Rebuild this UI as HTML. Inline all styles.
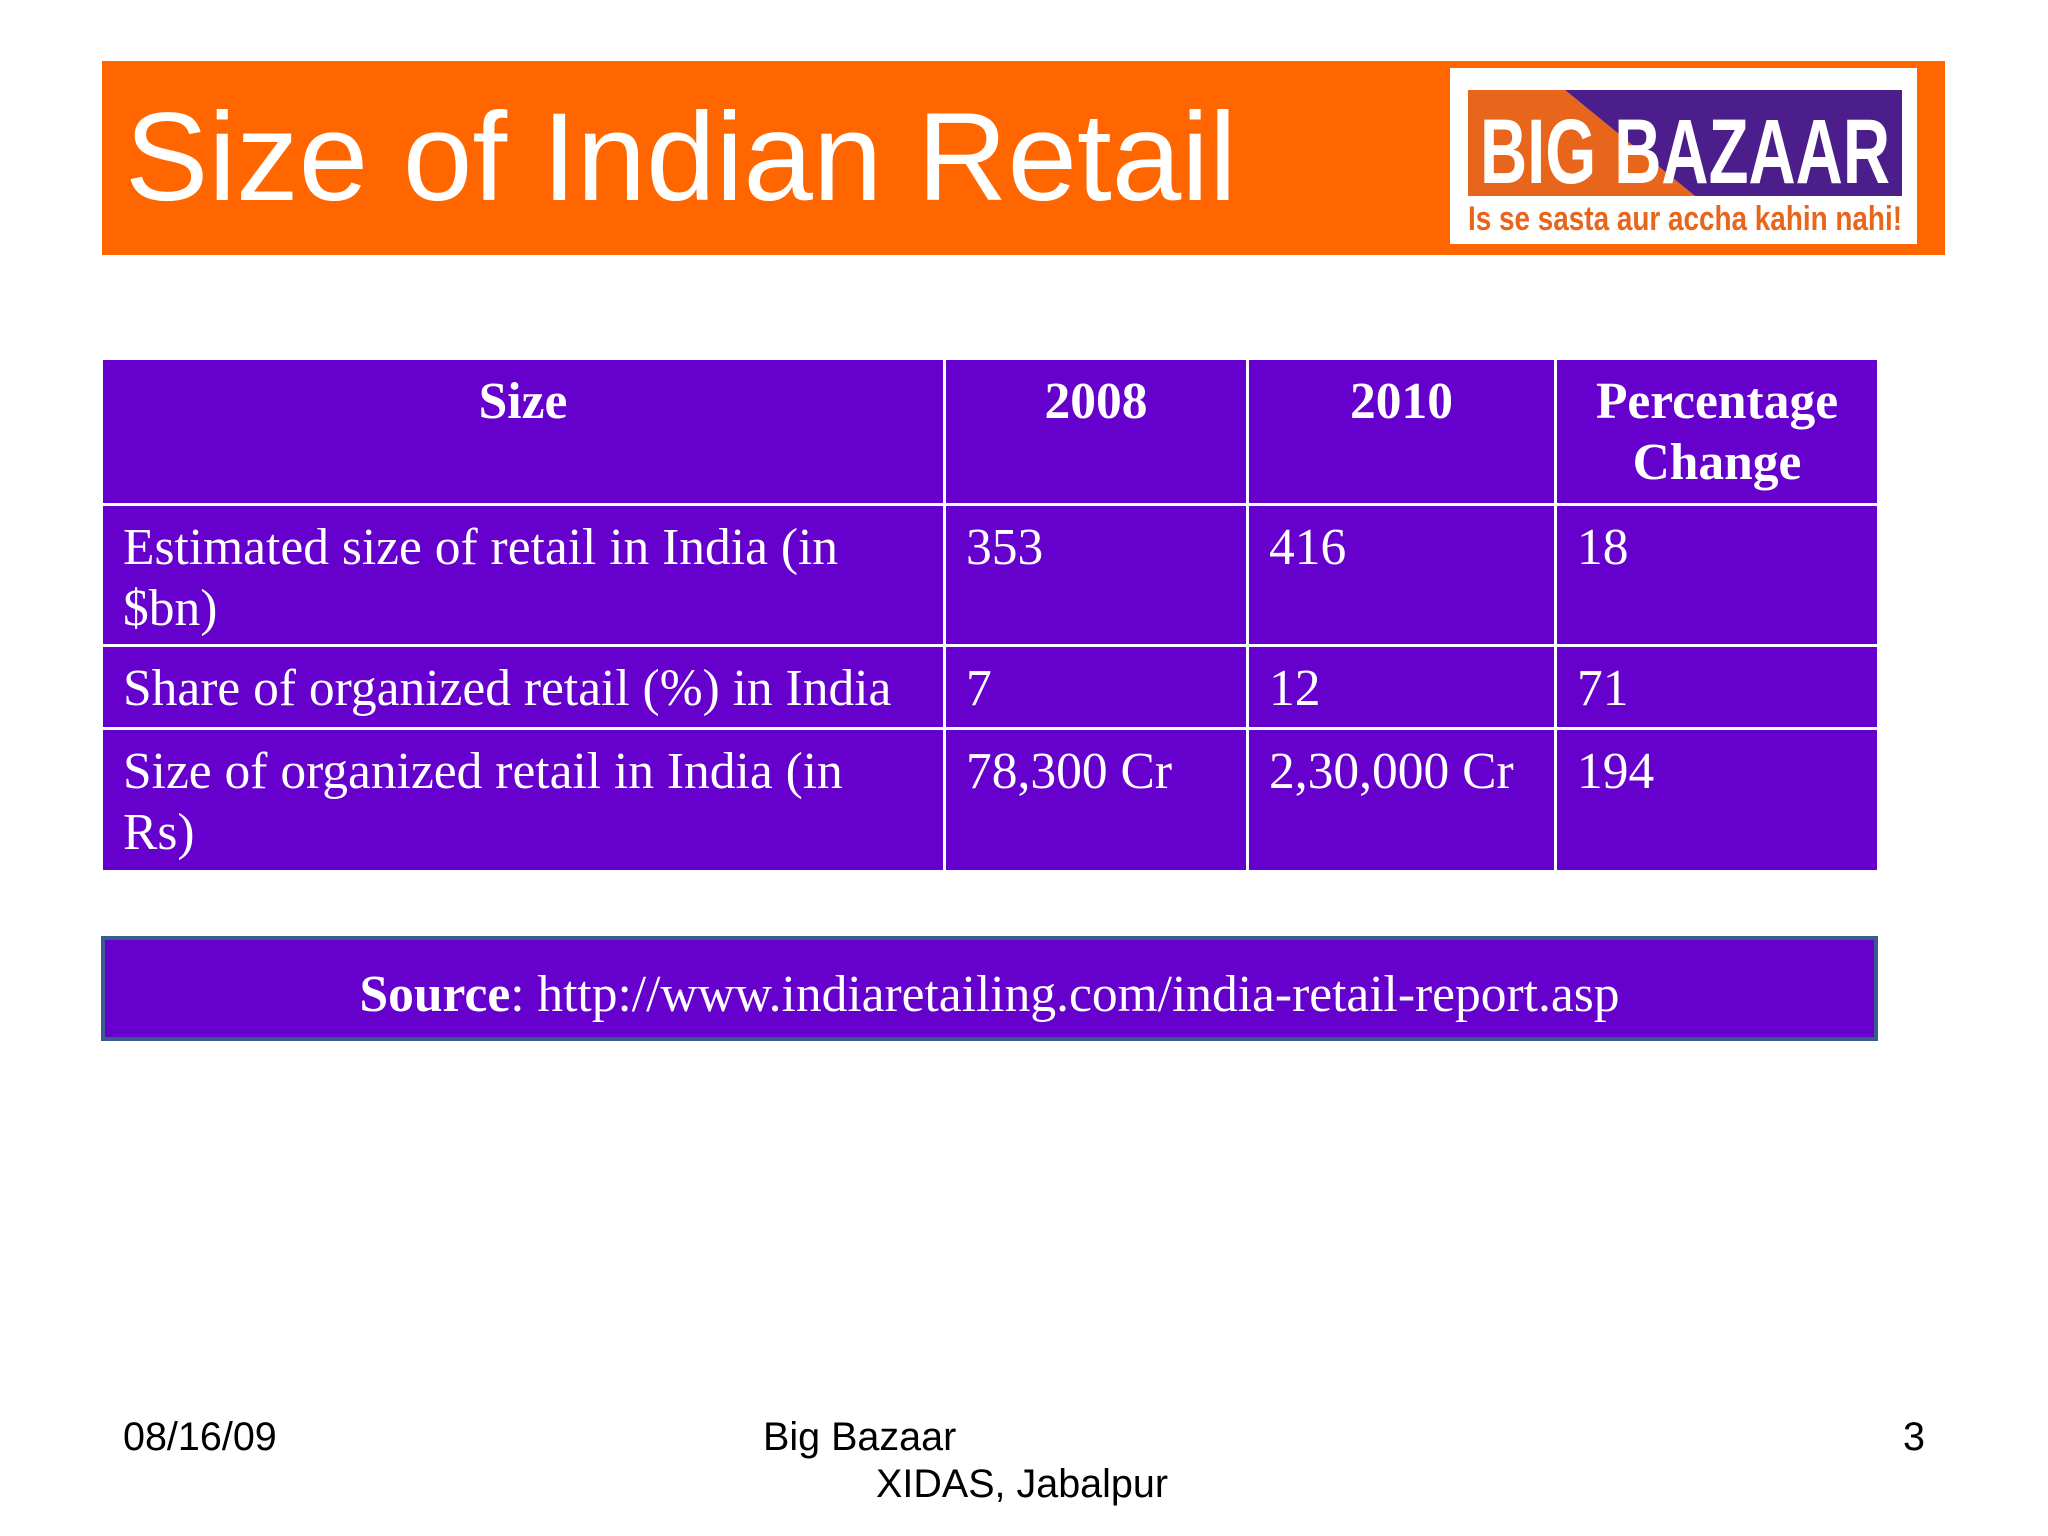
<!DOCTYPE html>
<html><head><meta charset="utf-8">
<style>
body{margin:0;width:2048px;height:1536px;background:#fff;position:relative;overflow:hidden;font-family:"Liberation Sans",sans-serif}
.banner{position:absolute;left:102px;top:61px;width:1843px;height:194px;background:#FF6600}
.title{position:absolute;left:125px;top:88px;font-size:125px;color:#fff;line-height:140px;white-space:nowrap}
.logo{position:absolute;left:1450px;top:68px;width:467px;height:176px;background:#fff}
.tbl{position:absolute;left:100px;top:357px;border-collapse:collapse;font-family:"Liberation Serif",serif;font-size:51.5px;color:#fff}
.tbl td,.tbl th{background:#6600CC;border:3px solid #fff;line-height:61px;vertical-align:top;padding:11px 20px 0 20px;box-sizing:border-box}
.tbl th{text-align:center;font-weight:bold}
.src{position:absolute;left:101px;top:936px;width:1777px;height:105px;box-sizing:border-box;background:#6600CC;border:4px solid #3B5B8C;color:#fff;font-family:"Liberation Serif",serif;font-size:51.5px;text-align:center;line-height:110px}
.ft{position:absolute;font-size:39.5px;color:#000;line-height:40px;white-space:nowrap}
</style></head><body>
<div class="banner"></div>
<div class="title">Size of Indian Retail</div>
<div class="logo">
<svg width="467" height="176" viewBox="0 0 467 176">
<polygon points="18,22 115,22 245,128 18,128" fill="#E8661C"/>
<polygon points="115,22 452,22 452,128 245,128" fill="#4B1E8C"/>
<text x="30" y="115" font-family="Liberation Sans" font-weight="bold" font-size="92" fill="#fff" textLength="410" lengthAdjust="spacingAndGlyphs">BIG BAZAAR</text>
<text x="18" y="162" font-family="Liberation Sans" font-weight="bold" font-size="34" fill="#E8661C" textLength="434" lengthAdjust="spacingAndGlyphs">Is se sasta aur accha kahin nahi!</text>
</svg></div>
<table class="tbl">
<tr style="height:146px">
<th style="width:843px">Size</th>
<th style="width:303px">2008</th>
<th style="width:308px">2010</th>
<th style="width:323px">Percentage Change</th></tr>
<tr style="height:141px"><td>Estimated size of retail in India (in $bn)</td><td>353</td><td>416</td><td>18</td></tr>
<tr style="height:83px"><td>Share of organized retail (%) in India</td><td>7</td><td>12</td><td>71</td></tr>
<tr style="height:143px"><td>Size of organized retail in India (in Rs)</td><td>78,300 Cr</td><td>2,30,000 Cr</td><td>194</td></tr>
</table>
<div class="src"><b>Source</b>: http://www.indiaretailing.com/india-retail-report.asp</div>
<div class="ft" style="left:123px;top:1417px">08/16/09</div>
<div class="ft" style="left:763px;top:1417px">Big Bazaar</div>
<div class="ft" style="left:876px;top:1464px">XIDAS, Jabalpur</div>
<div class="ft" style="left:1903px;top:1417px">3</div>
</body></html>
